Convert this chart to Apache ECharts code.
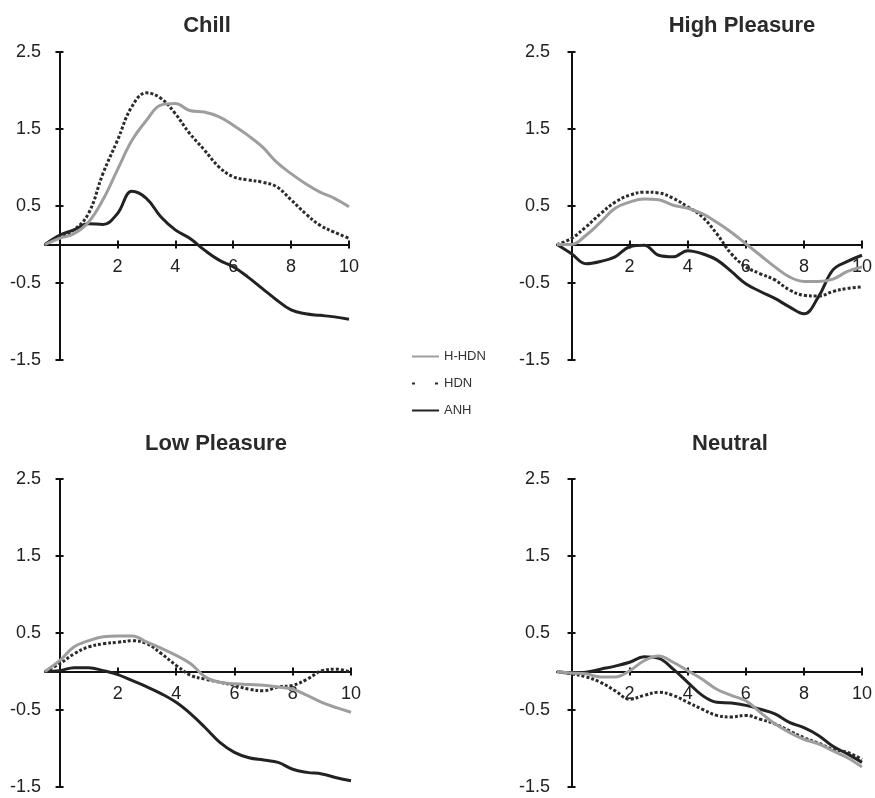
<!DOCTYPE html>
<html>
<head>
<meta charset="utf-8">
<script src="https://cdn.jsdelivr.net/npm/echarts@6/dist/echarts.min.js"></script>
<style>
  html, body { margin: 0; padding: 0; background: #fff; }
  #main { width: 875px; height: 798px; }
</style>
</head>
<body>
<div id="main"></div>
<script>
"use strict";
// time points (x) shared by all panels
var times = [-0.5, 0, 0.5, 1, 1.5, 2, 2.5, 3, 3.5, 4, 4.5, 5, 5.5, 6, 6.5, 7, 7.5, 8, 8.5, 9, 9.5, 10];
var xTicks = [2, 4, 6, 8, 10];
var panels = ["Chill", "High Pleasure", "Low Pleasure", "Neutral"];
var groups = ["H-HDN", "HDN", "ANH"];

// Chill
var chillHHDN = [0, 0.08, 0.14, 0.29, 0.58, 0.97, 1.35, 1.61, 1.81, 1.83, 1.74, 1.72, 1.66, 1.55, 1.42, 1.27, 1.07, 0.92, 0.79, 0.68, 0.6, 0.49];
var chillHDN = [0, 0.1, 0.19, 0.4, 0.92, 1.35, 1.79, 1.97, 1.9, 1.7, 1.44, 1.23, 1.01, 0.88, 0.84, 0.81, 0.75, 0.58, 0.4, 0.25, 0.16, 0.08];
var chillANH = [0, 0.12, 0.19, 0.27, 0.26, 0.4, 0.69, 0.6, 0.36, 0.19, 0.08, -0.07, -0.2, -0.29, -0.42, -0.57, -0.72, -0.85, -0.9, -0.92, -0.94, -0.97];
// High Pleasure
var highHHDN = [0, 0, 0.12, 0.29, 0.47, 0.55, 0.59, 0.58, 0.51, 0.47, 0.4, 0.29, 0.16, 0.01, -0.14, -0.29, -0.42, -0.48, -0.48, -0.45, -0.35, -0.29];
var highHDN = [0, 0.08, 0.23, 0.4, 0.55, 0.64, 0.68, 0.67, 0.6, 0.49, 0.36, 0.14, -0.12, -0.29, -0.38, -0.46, -0.59, -0.66, -0.67, -0.61, -0.57, -0.55];
var highANH = [0, -0.12, -0.25, -0.22, -0.16, -0.03, -0.01, -0.14, -0.16, -0.08, -0.12, -0.2, -0.35, -0.51, -0.61, -0.7, -0.81, -0.9, -0.68, -0.33, -0.22, -0.14];
// Low Pleasure
var lowHHDN = [0, 0.14, 0.32, 0.4, 0.45, 0.46, 0.46, 0.38, 0.3, 0.21, 0.1, -0.07, -0.14, -0.16, -0.17, -0.18, -0.2, -0.23, -0.31, -0.4, -0.47, -0.53];
var lowHDN = [0, 0.1, 0.23, 0.32, 0.36, 0.38, 0.4, 0.36, 0.23, 0.08, -0.05, -0.1, -0.14, -0.18, -0.23, -0.25, -0.2, -0.18, -0.1, 0.01, 0.03, -0.01];
var lowANH = [0, 0.01, 0.05, 0.05, 0.01, -0.04, -0.12, -0.2, -0.29, -0.4, -0.55, -0.73, -0.92, -1.05, -1.12, -1.15, -1.18, -1.27, -1.31, -1.33, -1.38, -1.42];
// Neutral
var neutHHDN = [0, -0.02, -0.03, -0.07, -0.07, 0.01, 0.14, 0.2, 0.12, 0.01, -0.1, -0.23, -0.31, -0.38, -0.53, -0.68, -0.79, -0.88, -0.94, -1.03, -1.12, -1.24];
var neutHDN = [0, -0.03, -0.07, -0.14, -0.25, -0.36, -0.31, -0.27, -0.31, -0.4, -0.49, -0.57, -0.59, -0.57, -0.62, -0.68, -0.77, -0.86, -0.93, -1.01, -1.05, -1.14];
var neutANH = [0, -0.02, -0.01, 0.03, 0.07, 0.12, 0.19, 0.17, 0.03, -0.14, -0.31, -0.4, -0.41, -0.44, -0.49, -0.55, -0.66, -0.73, -0.83, -0.97, -1.07, -1.18];

var panelData = [
    [chillHHDN, chillHDN, chillANH],
    [highHHDN, highHDN, highANH],
    [lowHHDN, lowHDN, lowANH],
    [neutHHDN, neutHDN, neutANH]
];

var chartDom = document.getElementById('main');
var myChart = echarts.init(chartDom, null, { renderer: 'canvas' });

var font = "'Liberation Sans', Arial, sans-serif";
// grid boxes: [left, top, width, height]
var boxes = [
    [45, 52, 304, 308],
    [557, 52, 311, 308],
    [45, 479, 306, 308],
    [557, 479, 313, 308]
];
var titlePos = [[202, 10], [737, 10], [211, 428], [725, 428]];
var yLabelMargin = [4, 7, 4, 7];

var lineStyles = [
    { color: '#9e9e9e', width: 3, type: 'solid' },
    { color: '#2b2b2b', width: 3, type: [3, 2] },
    { color: '#222222', width: 3, type: 'solid' }
];

function pairs(vals) {
    return times.map(function (t, i) { return [t, vals[i]]; });
}

var tickStyle = { color: '#111', width: 2 };
var grids = [], xAxes = [], yAxes = [], series = [], titles = [];
panels.forEach(function (name, p) {
    var b = boxes[p];
    grids.push({ left: b[0], top: b[1], width: b[2], height: b[3], containLabel: false });
    titles.push({
        text: name, left: titlePos[p][0], top: titlePos[p][1], textAlign: 'center',
        textStyle: { fontFamily: font, fontSize: 22, fontWeight: 'bold', color: '#2a2a2a' }
    });
    // main axes: line, lower/left half of the ticks, labels
    xAxes.push({
        type: 'value', gridIndex: p, min: -0.5, max: 10, position: 'bottom',
        axisLine: { onZero: true, lineStyle: { color: '#111', width: 2 } },
        axisTick: { show: true, length: 4, customValues: xTicks, lineStyle: tickStyle },
        // labels sit at the grid edge, pull them up under the zero line
        axisLabel: { customValues: xTicks, fontFamily: font, fontSize: 18, color: '#222', margin: -102 },
        splitLine: { show: false }
    });
    yAxes.push({
        type: 'value', gridIndex: p, min: -1.5, max: 2.5, interval: 1, position: 'left',
        axisLine: { show: true, onZero: true, lineStyle: { color: '#111', width: 2 } },
        axisTick: { show: true, length: 4, lineStyle: tickStyle },
        axisLabel: { fontFamily: font, fontSize: 18, color: '#222', margin: yLabelMargin[p],
            formatter: function (v) { return v.toFixed(1); } },
        splitLine: { show: false }
    });
    groups.forEach(function (g, k) {
        series.push({
            name: g, type: 'line', xAxisIndex: p, yAxisIndex: p,
            data: pairs(panelData[p][k]),
            smooth: 0.4, symbol: 'none',
            lineStyle: lineStyles[k],
            itemStyle: { color: lineStyles[k].color },
            z: 3 - k
        });
    });
});
// twin axes: only the other half of the ticks so they cross the axis line
panels.forEach(function (name, p) {
    xAxes.push({
        type: 'value', gridIndex: p, min: -0.5, max: 10, position: 'top',
        axisLine: { show: false, onZero: true },
        axisTick: { show: true, length: 4, customValues: xTicks, lineStyle: tickStyle },
        axisLabel: { show: false },
        splitLine: { show: false }
    });
    yAxes.push({
        type: 'value', gridIndex: p, min: -1.5, max: 2.5, interval: 1, position: 'right',
        axisLine: { show: false, onZero: true },
        axisTick: { show: true, length: 4, lineStyle: tickStyle },
        axisLabel: { show: false },
        splitLine: { show: false }
    });
});

var option = {
    animation: false,
    backgroundColor: '#ffffff',
    title: titles,
    legend: {
        orient: 'vertical', left: 406, top: 345,
        itemWidth: 27, itemHeight: 14, itemGap: 14,
        itemStyle: { opacity: 0 },
        textStyle: { fontFamily: font, fontSize: 13, color: '#333' },
        data: [
            { name: 'H-HDN' },
            { name: 'HDN', lineStyle: { type: [3, 20] } },
            { name: 'ANH' }
        ]
    },
    grid: grids,
    xAxis: xAxes,
    yAxis: yAxes,
    series: series
};
myChart.setOption(option);
</script>
</body>
</html>
